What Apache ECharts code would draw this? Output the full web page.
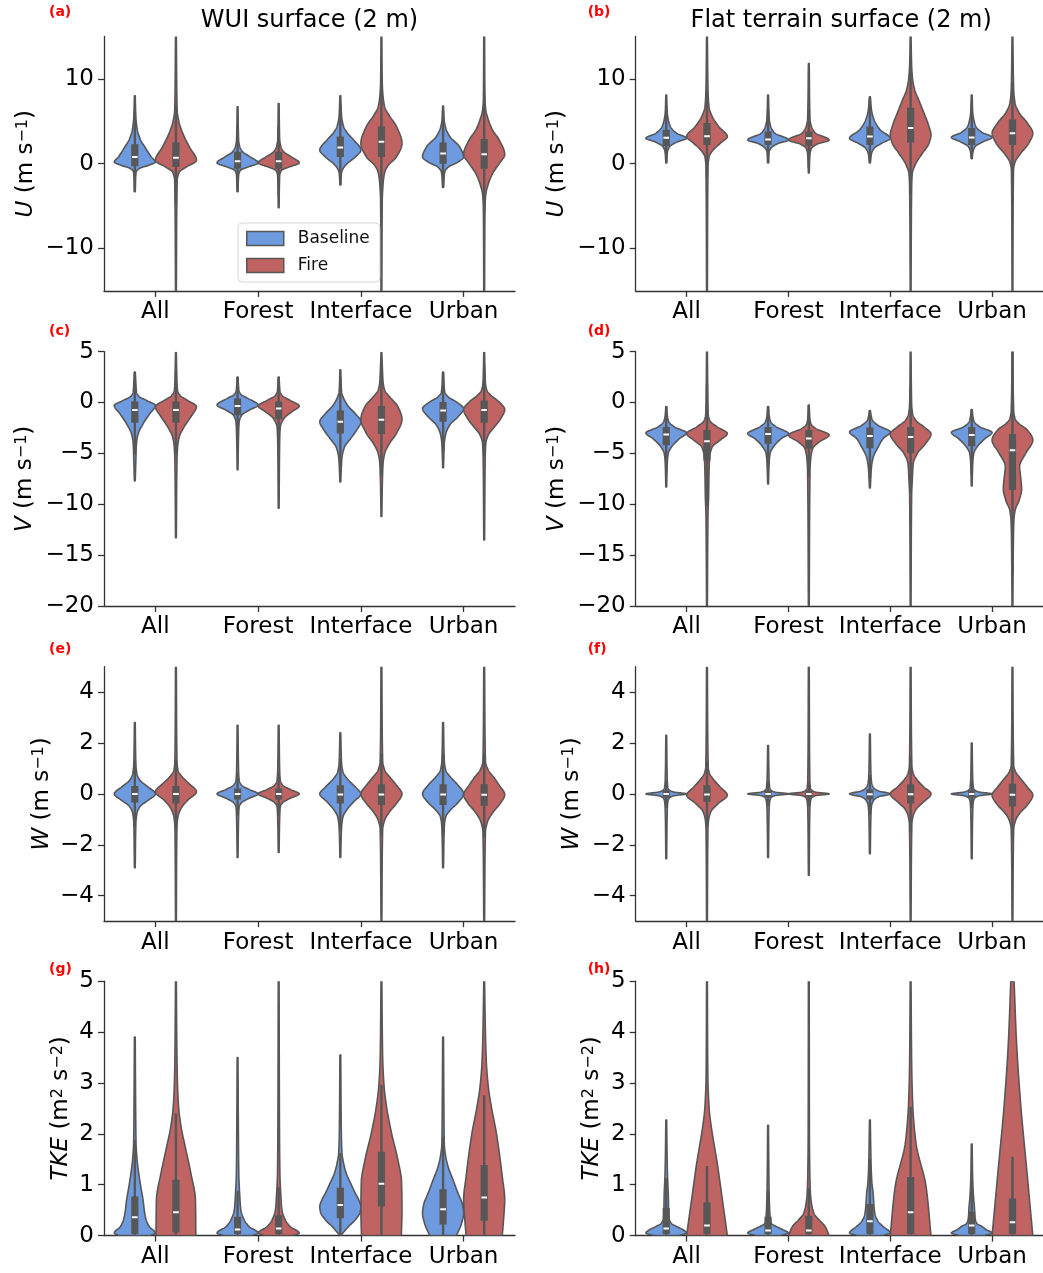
<!DOCTYPE html>
<html>
<head>
<meta charset="utf-8">
<script src="https://cdn.jsdelivr.net/npm/echarts@6/dist/echarts.min.js"></script>
<style>
  html, body { margin: 0; padding: 0; background: #fff; }
  #chart { width: 1043px; height: 1273px; }
</style>
</head>
<body>
<div id="chart"></div>
<script>
// Land-cover classes on every x axis and the two simulations compared
const categories = ['All', 'Forest', 'Interface', 'Urban'];
const groups = ['Baseline', 'Fire'];

// Tick values per quantity
const ticksU = [-10, 0, 10];
const ticksV = [-20, -15, -10, -5, 0, 5];
const ticksW = [-4, -2, 0, 2, 4];
const ticksTKE = [0, 1, 2, 3, 4, 5];

// Violin outlines: [value, half-width relative to the widest point]
// Inner boxes: [lower whisker, Q1, median, Q3, upper whisker]

// U, WUI surface
const uWuiBaseShape = [
  [[-3.3,0.02],[-1.0,0.06],[-0.6,0.2],[-0.2,0.65],[0.2,1.0],[0.8,0.8],[2.0,0.48],[2.8,0.28],[4.0,0.12],[5.5,0.05],[8.0,0.02]],
  [[-3.3,0.02],[-1.4,0.05],[-0.8,0.13],[-0.4,0.5],[0.1,1.0],[0.8,0.62],[1.4,0.25],[2.0,0.11],[2.8,0.05],[6.7,0.02]],
  [[-2.5,0.02],[-1.2,0.05],[-0.6,0.13],[0,0.33],[0.8,0.73],[1.6,1.0],[2.8,0.65],[3.6,0.35],[4.4,0.16],[5.6,0.06],[8.0,0.02]],
  [[-2.8,0.02],[-1.0,0.08],[-0.4,0.25],[0.2,0.73],[0.8,1.0],[2.0,0.8],[3.2,0.33],[4.2,0.13],[5.2,0.05],[6.8,0.02]]
];
const uWuiBaseBox = [[-3.3,-0.3,0.8,2.3,6.2],[-3.3,-0.6,0.3,1.4,4.4],[-2.5,0.8,1.9,3.2,6.8],[-2.8,0.0,1.2,2.5,6.2]];
const uWuiFireShape = [
  [[-15,0.02],[-2.0,0.06],[-1.0,0.16],[-0.4,0.5],[0.4,1.0],[2.0,0.65],[3.6,0.33],[4.8,0.16],[6.3,0.06],[15,0.02]],
  [[-5.2,0.02],[-1.4,0.05],[-0.8,0.13],[-0.4,0.5],[0.1,1.0],[0.8,0.62],[1.4,0.25],[2.0,0.11],[2.8,0.05],[7.1,0.02]],
  [[-15,0.02],[-4.4,0.04],[-2.4,0.08],[-1.0,0.16],[-0.2,0.33],[0.8,0.73],[2.4,1.0],[4.4,0.73],[5.6,0.4],[6.7,0.16],[7.9,0.08],[9.5,0.04],[15,0.02]],
  [[-15,0.02],[-5.2,0.04],[-3.6,0.08],[-2.4,0.2],[-1.2,0.4],[0,0.73],[1.1,1.0],[2.8,0.73],[4.0,0.4],[5.2,0.2],[6.3,0.08],[7.5,0.04],[15,0.02]]
];
const uWuiFireBox = [[-4.8,-0.4,0.7,2.5,6.9],[-3.6,-0.6,0.3,1.4,4.4],[-4.6,0.8,2.6,4.4,9.8],[-5.8,-0.6,1.1,2.9,8.1]];

// U, flat terrain surface
const uFlatBaseShape = [
  [[0.1,0.02],[1.4,0.06],[2.0,0.16],[2.6,0.57],[3.0,1.0],[3.6,0.5],[4.4,0.2],[5.2,0.1],[6.0,0.05],[8.1,0.02]],
  [[0.1,0.02],[1.4,0.05],[1.8,0.13],[2.4,0.5],[2.8,1.0],[3.6,0.33],[4.4,0.13],[5.2,0.06],[8.1,0.02]],
  [[0.1,0.02],[1.2,0.08],[1.8,0.2],[2.4,0.57],[3.0,1.0],[4.0,0.5],[5.2,0.2],[6.3,0.08],[7.9,0.02]],
  [[0.6,0.02],[1.4,0.06],[2.0,0.16],[2.6,0.57],[3.1,1.0],[3.7,0.5],[4.4,0.2],[5.2,0.1],[6.0,0.05],[8.1,0.02]]
];
const uFlatBaseBox = [[0.1,2.1,3.05,4.0,6.8],[0.1,2.2,2.85,3.8,6.2],[0.1,2.2,3.2,4.4,7.7],[0.6,2.2,3.1,4.2,7.2]];
const uFlatFireShape = [
  [[-15,0.02],[-0.4,0.05],[0.8,0.1],[1.6,0.3],[2.4,0.65],[3.2,1.0],[4.4,0.57],[5.6,0.25],[6.7,0.1],[8.7,0.05],[15,0.02]],
  [[-1.1,0.02],[1.2,0.06],[1.8,0.13],[2.3,0.4],[2.8,1.0],[3.6,0.33],[4.4,0.13],[5.2,0.06],[11.8,0.02]],
  [[-15,0.02],[-2.8,0.05],[-1.2,0.08],[0,0.25],[1.2,0.57],[2.4,0.9],[3.4,1.0],[4.4,0.9],[6.0,0.65],[7.5,0.4],[8.7,0.2],[9.9,0.1],[11.5,0.05],[15,0.02]],
  [[-15,0.02],[-0.8,0.05],[0.2,0.13],[1.2,0.4],[2.4,0.8],[3.6,1.0],[4.8,0.73],[6.0,0.33],[7.1,0.13],[8.7,0.06],[15,0.02]]
];
const uFlatFireBox = [[-1.6,2.2,3.25,4.8,8.7],[-0.5,2.1,3.0,3.8,6.3],[-3.6,2.5,4.2,6.6,12.7],[-2.3,2.2,3.6,5.2,9.7]];

// V, WUI surface
const vWuiBaseShape = [
  [[-7.7,0.02],[-5.7,0.05],[-4.0,0.08],[-3.1,0.16],[-2.1,0.4],[-1.1,0.73],[-0.3,1.0],[0.2,0.57],[0.6,0.2],[1.05,0.08],[1.9,0.05],[3.0,0.02]],
  [[-6.6,0.02],[-3.0,0.05],[-1.9,0.08],[-1.25,0.2],[-0.75,0.57],[-0.25,1.0],[0.4,0.5],[0.8,0.16],[1.3,0.06],[2.5,0.02]],
  [[-7.8,0.02],[-6.3,0.05],[-5.4,0.08],[-4.4,0.2],[-3.55,0.5],[-2.7,0.8],[-1.9,1.0],[-1.1,0.73],[-0.4,0.4],[0.05,0.25],[0.55,0.13],[1.05,0.06],[3.2,0.02]],
  [[-6.4,0.02],[-4.0,0.06],[-3.1,0.13],[-2.2,0.33],[-1.4,0.73],[-0.6,1.0],[0.05,0.65],[0.55,0.25],[1.05,0.08],[3.0,0.02]]
];
const vWuiBaseBox = [[-5.1,-2.0,-0.75,0.1,3.0],[-3.7,-1.25,-0.35,0.4,2.5],[-6.4,-3.05,-1.9,-0.8,2.5],[-4.8,-1.9,-0.8,0.05,2.9]];
const vWuiFireShape = [
  [[-13.3,0.02],[-5.8,0.05],[-4.4,0.08],[-3.4,0.16],[-2.4,0.4],[-1.4,0.73],[-0.4,1.0],[0.2,0.57],[0.7,0.2],[1.2,0.08],[2.0,0.05],[4.9,0.02]],
  [[-10.4,0.02],[-3.6,0.05],[-2.4,0.08],[-1.6,0.25],[-0.9,0.65],[-0.35,1.0],[0.2,0.57],[0.7,0.16],[1.2,0.06],[2.5,0.02]],
  [[-11.2,0.02],[-7.5,0.05],[-6.0,0.08],[-5.0,0.16],[-4.0,0.4],[-3.05,0.73],[-1.65,1.0],[-0.4,0.8],[0.55,0.4],[1.2,0.16],[2.0,0.08],[3.2,0.05],[4.9,0.02]],
  [[-13.5,0.02],[-5.5,0.05],[-4.0,0.08],[-3.2,0.2],[-2.4,0.5],[-1.6,0.8],[-0.7,1.0],[0.05,0.73],[0.7,0.33],[1.2,0.13],[1.9,0.06],[4.9,0.02]]
];
const vWuiFireBox = [[-5.1,-2.0,-0.75,0.1,3.2],[-4.3,-1.65,-0.6,0.1,2.5],[-7.2,-3.1,-1.7,-0.35,3.7],[-5.3,-2.0,-0.75,0.2,3.5]];

// V, flat terrain surface
const vFlatBaseShape = [
  [[-8.3,0.02],[-6.0,0.05],[-5.0,0.1],[-4.4,0.25],[-3.55,0.65],[-3.0,1.0],[-2.4,0.4],[-1.9,0.13],[-1.4,0.06],[-0.4,0.02]],
  [[-8.0,0.02],[-6.0,0.05],[-5.0,0.1],[-4.4,0.25],[-3.55,0.65],[-3.05,1.0],[-2.4,0.4],[-1.9,0.13],[-1.4,0.06],[-0.4,0.02]],
  [[-8.4,0.02],[-6.3,0.08],[-5.4,0.16],[-4.4,0.4],[-3.55,0.65],[-2.9,1.0],[-2.25,0.4],[-1.75,0.13],[-1.2,0.05],[-0.8,0.02]],
  [[-8.2,0.02],[-6.0,0.05],[-5.0,0.1],[-4.4,0.25],[-3.55,0.65],[-2.95,1.0],[-2.4,0.4],[-1.9,0.13],[-1.4,0.06],[-0.7,0.02]]
];
const vFlatBaseBox = [[-6.9,-4.2,-3.15,-2.4,-0.4],[-6.5,-4.05,-3.1,-2.4,-0.4],[-7.5,-4.5,-3.3,-2.45,-0.8],[-7.1,-4.3,-3.2,-2.4,-0.7]];
const vFlatFireShape = [
  [[-20,0.02],[-11,0.05],[-9.3,0.08],[-7.0,0.1],[-5.4,0.13],[-4.4,0.25],[-3.7,0.65],[-3.05,1.0],[-2.4,0.5],[-1.75,0.13],[-1.1,0.06],[5,0.02]],
  [[-20,0.02],[-6.7,0.06],[-5.4,0.1],[-4.5,0.2],[-3.9,0.5],[-3.2,1.0],[-2.55,0.33],[-2.1,0.1],[-1.5,0.05],[-0.25,0.02]],
  [[-20,0.02],[-9.0,0.05],[-7.7,0.08],[-6.0,0.13],[-5.0,0.33],[-4.05,0.73],[-3.1,1.0],[-2.4,0.65],[-1.75,0.25],[-1.1,0.1],[-0.2,0.05],[5,0.02]],
  [[-20,0.02],[-13,0.05],[-11.6,0.07],[-10.6,0.13],[-9.6,0.33],[-8.5,0.45],[-7.3,0.4],[-6.3,0.35],[-5.0,0.65],[-3.7,1.0],[-2.7,0.73],[-2.1,0.33],[-1.6,0.13],[-0.8,0.06],[5,0.02]]
];
const vFlatFireBox = [[-10.2,-5.7,-3.8,-2.7,1.8],[-7.3,-4.55,-3.55,-2.7,-0.25],[-8.9,-5.0,-3.4,-2.4,1.5],[-16.8,-8.6,-4.7,-3.1,5]];

// W, WUI surface
const wWuiBaseShape = [
  [[-2.9,0.02],[-1.16,0.05],[-0.77,0.1],[-0.5,0.25],[-0.25,0.65],[0,1.0],[0.27,0.65],[0.54,0.25],[0.8,0.1],[1.2,0.05],[2.8,0.02]],
  [[-2.5,0.02],[-0.9,0.05],[-0.5,0.08],[-0.34,0.2],[-0.17,0.57],[0,1.0],[0.17,0.57],[0.34,0.2],[0.54,0.08],[0.86,0.05],[2.7,0.02]],
  [[-2.5,0.02],[-1.3,0.06],[-0.9,0.13],[-0.64,0.3],[-0.31,0.65],[0,1.0],[0.27,0.73],[0.6,0.33],[0.86,0.13],[1.2,0.06],[2.4,0.02]],
  [[-2.9,0.02],[-1.3,0.06],[-0.9,0.13],[-0.64,0.35],[-0.34,0.73],[0,1.0],[0.34,0.73],[0.67,0.35],[0.93,0.13],[1.3,0.06],[2.8,0.02]]
];
const wWuiBaseBox = [[-1.3,-0.34,0,0.31,1.3],[-0.85,-0.22,0,0.21,0.85],[-1.45,-0.38,-0.02,0.34,1.4],[-1.65,-0.44,-0.02,0.38,1.6]];
const wWuiFireShape = [
  [[-5,0.02],[-1.3,0.05],[-0.9,0.1],[-0.57,0.25],[-0.25,0.57],[0.08,1.0],[0.4,0.65],[0.67,0.3],[0.93,0.1],[1.3,0.05],[5,0.02]],
  [[-2.3,0.02],[-0.9,0.05],[-0.5,0.08],[-0.34,0.2],[-0.17,0.57],[0,1.0],[0.17,0.57],[0.34,0.2],[0.54,0.08],[0.86,0.05],[2.7,0.02]],
  [[-5,0.02],[-1.4,0.06],[-1.03,0.16],[-0.7,0.4],[-0.38,0.73],[0,1.0],[0.34,0.73],[0.67,0.4],[0.93,0.16],[1.3,0.06],[5,0.02]],
  [[-5,0.02],[-1.5,0.06],[-1.1,0.16],[-0.7,0.45],[-0.38,0.78],[-0.03,1.0],[0.34,0.73],[0.67,0.45],[0.93,0.2],[1.3,0.06],[5,0.02]]
];
const wWuiFireBox = [[-1.4,-0.38,0,0.31,1.35],[-0.85,-0.22,0,0.21,0.85],[-1.65,-0.44,-0.02,0.38,1.6],[-1.7,-0.47,-0.03,0.38,1.6]];

// W, flat terrain surface
const wFlatBaseShape = [
  [[-2.55,0.02],[-0.64,0.05],[-0.3,0.08],[-0.18,0.13],[-0.08,0.33],[0,1.0],[0.08,0.33],[0.17,0.13],[0.27,0.08],[0.54,0.05],[2.3,0.02]],
  [[-2.5,0.02],[-0.64,0.05],[-0.3,0.08],[-0.16,0.13],[-0.07,0.33],[0,1.0],[0.07,0.33],[0.16,0.13],[0.27,0.08],[0.54,0.05],[1.9,0.02]],
  [[-2.35,0.02],[-0.84,0.05],[-0.47,0.08],[-0.28,0.16],[-0.12,0.4],[0,1.0],[0.12,0.4],[0.27,0.16],[0.47,0.08],[0.8,0.05],[2.35,0.02]],
  [[-2.55,0.02],[-0.64,0.05],[-0.3,0.08],[-0.18,0.13],[-0.08,0.33],[0,1.0],[0.08,0.33],[0.17,0.13],[0.27,0.08],[0.54,0.05],[2.0,0.02]]
];
const wFlatBaseBox = [[-0.55,-0.14,0,0.14,0.55],[-0.48,-0.12,0,0.12,0.48],[-0.8,-0.22,-0.01,0.18,0.75],[-0.55,-0.14,0,0.14,0.55]];
const wFlatFireShape = [
  [[-5,0.02],[-1.3,0.05],[-1.03,0.08],[-0.7,0.19],[-0.38,0.55],[-0.05,1.0],[0.27,0.65],[0.54,0.35],[0.8,0.13],[1.06,0.06],[5,0.02]],
  [[-3.2,0.02],[-0.64,0.05],[-0.3,0.08],[-0.16,0.13],[-0.07,0.33],[0,1.0],[0.07,0.33],[0.16,0.13],[0.27,0.08],[0.54,0.05],[5,0.02]],
  [[-5,0.02],[-1.2,0.06],[-0.84,0.13],[-0.57,0.3],[-0.31,0.65],[0,1.0],[0.27,0.65],[0.54,0.33],[0.8,0.13],[1.12,0.06],[5,0.02]],
  [[-5,0.02],[-1.4,0.06],[-1.03,0.16],[-0.77,0.35],[-0.44,0.73],[-0.05,1.0],[0.27,0.73],[0.6,0.4],[0.86,0.16],[1.12,0.06],[5,0.02]]
];
const wFlatFireBox = [[-1.3,-0.31,-0.02,0.34,1.3],[-0.48,-0.12,0,0.12,0.48],[-1.5,-0.38,-0.01,0.38,1.5],[-1.85,-0.5,-0.03,0.4,1.75]];

// TKE, WUI surface
const tkeWuiBaseShape = [
  [[0,0.75],[0.05,1.0],[0.18,0.7],[0.31,0.55],[0.44,0.48],[0.7,0.4],[0.96,0.29],[1.22,0.19],[1.49,0.11],[1.8,0.06],[2.5,0.04],[3.9,0.02]],
  [[0,0.7],[0.05,1.0],[0.18,0.55],[0.31,0.32],[0.5,0.16],[0.83,0.1],[1.2,0.06],[2.0,0.04],[3.5,0.02]],
  [[0,0.02],[0.18,0.4],[0.31,0.73],[0.47,0.97],[0.57,1.0],[0.7,0.9],[0.83,0.73],[1.03,0.5],[1.22,0.29],[1.42,0.16],[1.62,0.08],[2.0,0.05],[3.55,0.02]],
  [[0,0.65],[0.24,0.9],[0.44,1.0],[0.6,0.95],[0.83,0.73],[1.1,0.48],[1.36,0.24],[1.55,0.13],[1.8,0.06],[2.5,0.04],[3.9,0.02]]
];
const tkeWuiBaseBox = [[0,0.03,0.36,0.77,1.88],[0,0.03,0.12,0.37,0.88],[0,0.34,0.6,0.94,1.62],[0,0.22,0.52,0.91,1.94]];
const tkeWuiFireShape = [
  [[0,0.97],[0.7,0.95],[1.22,0.73],[1.75,0.45],[2.14,0.25],[2.53,0.13],[2.93,0.08],[3.5,0.05],[5,0.02]],
  [[0,0.72],[0.05,1.0],[0.18,0.55],[0.31,0.32],[0.5,0.16],[0.83,0.1],[1.2,0.06],[2.0,0.04],[5,0.02]],
  [[0,0.97],[0.5,1.0],[1.05,0.98],[1.49,0.8],[2.0,0.5],[2.53,0.25],[2.93,0.13],[3.5,0.06],[5,0.02]],
  [[0,0.88],[0.35,0.95],[0.7,1.0],[1.16,0.88],[2.0,0.6],[2.53,0.35],[2.93,0.2],[3.45,0.1],[4.2,0.05],[5,0.02]]
];
const tkeWuiFireBox = [[0,0.06,0.46,1.1,2.4],[0,0.03,0.14,0.4,0.95],[0,0.57,1.02,1.65,2.96],[0,0.29,0.75,1.39,2.76]];

// TKE, flat terrain surface
const tkeFlatBaseShape = [
  [[0,0.6],[0.05,1.0],[0.12,0.8],[0.18,0.5],[0.24,0.25],[0.37,0.13],[0.83,0.1],[1.2,0.06],[1.6,0.04],[2.27,0.02]],
  [[0,0.6],[0.05,1.0],[0.12,0.7],[0.18,0.4],[0.24,0.16],[0.37,0.1],[0.7,0.06],[1.15,0.04],[2.17,0.02]],
  [[0,0.6],[0.05,1.0],[0.18,0.65],[0.28,0.4],[0.44,0.24],[0.64,0.19],[0.83,0.16],[1.03,0.1],[1.36,0.06],[1.75,0.04],[2.27,0.02]],
  [[0,0.6],[0.05,1.0],[0.12,0.7],[0.18,0.5],[0.24,0.25],[0.37,0.16],[0.57,0.13],[0.7,0.1],[0.96,0.06],[1.22,0.04],[1.8,0.02]]
];
const tkeFlatBaseBox = [[0,0.03,0.14,0.54,1.13],[0,0.03,0.1,0.37,0.88],[0,0.03,0.28,0.62,1.5],[0,0.03,0.2,0.47,1.12]];
const tkeFlatFireShape = [
  [[0,1.0],[1.3,0.55],[2.6,0.09],[3.2,0.04],[5,0.02]],
  [[0,1.0],[0.18,0.8],[0.31,0.5],[0.44,0.25],[0.64,0.13],[0.83,0.08],[1.2,0.05],[2.0,0.03],[5,0.02]],
  [[0,1.0],[0.96,0.76],[1.85,0.25],[2.6,0.1],[3.4,0.05],[5,0.02]],
  [[0,1.0],[1.3,0.7],[2.6,0.4],[3.8,0.2],[5,0.08]]
];
const tkeFlatFireBox = [[0,0.03,0.2,0.65,1.37],[0,0.03,0.1,0.39,0.93],[0,0.03,0.46,1.15,2.53],[0,0.03,0.26,0.73,1.55]];

// ---------------------------------------------------------------------------
const FONT = 'DejaVu Sans';
const BLUE = '#6e9ae0';
const RED = '#c06363';
const EDGE = '#575757';
const AXIS = '#333333';

const nameRich = {
  it: { fontStyle: 'italic', fontSize: 23, fontFamily: FONT, color: '#000' },
  sup: { fontSize: 16, fontFamily: FONT, color: '#000', verticalAlign: 'top' }
};
const labelU = '{it|U} (m s{sup|\u22121})';
const labelV = '{it|V} (m s{sup|\u22121})';
const labelW = '{it|W} (m s{sup|\u22121})';
const labelTKE = '{it|TKE} (m{sup|2} s{sup|\u22122})';

const colX = [104, 635.7];
const rowY = [36.5, 351.6, 666.7, 981.2];
const plotW = 411;
const plotH = 254.4;
const tagShiftX = [55, 48];
const tagShiftY = [31, 27, 24, 19];

const panels = [
  { tag: '(a)', col: 0, row: 0, min: -15, max: 15, ticks: ticksU, name: labelU, gap: 66, base: [uWuiBaseShape, uWuiBaseBox], fire: [uWuiFireShape, uWuiFireBox] },
  { tag: '(b)', col: 1, row: 0, min: -15, max: 15, ticks: ticksU, name: labelU, gap: 67, base: [uFlatBaseShape, uFlatBaseBox], fire: [uFlatFireShape, uFlatFireBox] },
  { tag: '(c)', col: 0, row: 1, min: -20, max: 5, ticks: ticksV, name: labelV, gap: 67, base: [vWuiBaseShape, vWuiBaseBox], fire: [vWuiFireShape, vWuiFireBox] },
  { tag: '(d)', col: 1, row: 1, min: -20, max: 5, ticks: ticksV, name: labelV, gap: 67, base: [vFlatBaseShape, vFlatBaseBox], fire: [vFlatFireShape, vFlatFireBox] },
  { tag: '(e)', col: 0, row: 2, min: -5, max: 5, ticks: ticksW, name: labelW, gap: 50, base: [wWuiBaseShape, wWuiBaseBox], fire: [wWuiFireShape, wWuiFireBox] },
  { tag: '(f)', col: 1, row: 2, min: -5, max: 5, ticks: ticksW, name: labelW, gap: 52, base: [wFlatBaseShape, wFlatBaseBox], fire: [wFlatFireShape, wFlatFireBox] },
  { tag: '(g)', col: 0, row: 3, min: 0, max: 5, ticks: ticksTKE, name: labelTKE, gap: 31, base: [tkeWuiBaseShape, tkeWuiBaseBox], fire: [tkeWuiFireShape, tkeWuiFireBox] },
  { tag: '(h)', col: 1, row: 3, min: 0, max: 5, ticks: ticksTKE, name: labelTKE, gap: 32, base: [tkeFlatBaseShape, tkeFlatBaseBox], fire: [tkeFlatFireShape, tkeFlatFireBox] }
];

// Smooth outline through the profile knots with a monotone cubic
// (no overshoot past the knots), traced in value space.
function smoothOutline(prof) {
  const n = prof.length;
  if (n < 3) return prof;
  const x = prof.map(p => p[0]), y = prof.map(p => p[1]);
  const h = [], d = [];
  for (let i = 0; i < n - 1; i++) { h[i] = x[i + 1] - x[i]; d[i] = (y[i + 1] - y[i]) / h[i]; }
  const m = new Array(n);
  m[0] = d[0]; m[n - 1] = d[n - 2];
  for (let i = 1; i < n - 1; i++) {
    if (d[i - 1] * d[i] <= 0) m[i] = 0;
    else m[i] = 3 * (h[i - 1] + h[i]) / ((2 * h[i] + h[i - 1]) / d[i - 1] + (h[i] + 2 * h[i - 1]) / d[i]);
  }
  const out = [];
  const STEPS = 14;
  for (let i = 0; i < n - 1; i++) {
    for (let s = 0; s < STEPS; s++) {
      const t = s / STEPS, t2 = t * t, t3 = t2 * t;
      const w = (2 * t3 - 3 * t2 + 1) * y[i] + (t3 - 2 * t2 + t) * h[i] * m[i]
              + (-2 * t3 + 3 * t2) * y[i + 1] + (t3 - t2) * h[i] * m[i + 1];
      out.push([x[i] + t * h[i], Math.max(0.01, w)]);
    }
  }
  out.push(prof[n - 1]);
  return out;
}

// Draws one violin (outline + inner box) per category, dodged by `shift` bands
function violinRenderer(shapes, boxes, shift, fill) {
  const outlines = shapes.map(smoothOutline);
  return function (params, api) {
    const i = api.value(0);
    const band = api.size([1, 0])[0];
    const cx = api.coord([i, 0])[0] + shift * band;
    const hw = 0.2 * band;
    const py = v => api.coord([i, v])[1];
    const prof = outlines[i];
    const right = prof.map(p => [cx + p[1] * hw, py(p[0])]);
    const left = prof.slice().reverse().map(p => [cx - p[1] * hw, py(p[0])]);
    const b = boxes[i];
    return {
      type: 'group',
      children: [
        { type: 'polygon', shape: { points: right.concat(left) },
          style: { fill: fill, stroke: EDGE, lineWidth: 1.6, lineJoin: 'round' } },
        { type: 'line', shape: { x1: cx, y1: py(b[0]), x2: cx, y2: py(b[4]) },
          style: { stroke: EDGE, lineWidth: 2.4 } },
        { type: 'rect', shape: { x: cx - 3.6, y: py(b[3]), width: 7.2, height: py(b[1]) - py(b[3]) },
          style: { fill: EDGE } },
        { type: 'line', shape: { x1: cx - 2.8, y1: py(b[2]), x2: cx + 2.8, y2: py(b[2]) },
          style: { stroke: '#ffffff', lineWidth: 2 } }
      ]
    };
  };
}

const grid = [], xAxis = [], yAxis = [], series = [], graphic = [];

panels.forEach((p, k) => {
  grid.push({ left: colX[p.col], top: rowY[p.row], width: plotW, height: plotH, containLabel: false });
  xAxis.push({
    gridIndex: k, type: 'category', data: categories, boundaryGap: true,
    axisLine: { show: true, onZero: false, lineStyle: { color: AXIS, width: 1.3 } },
    axisTick: { show: true, alignWithLabel: true, length: 6, lineStyle: { color: AXIS, width: 1.3 } },
    axisLabel: { fontSize: 23, fontFamily: FONT, color: '#000', margin: 10, interval: 0 },
    splitLine: { show: false }
  });
  yAxis.push({
    gridIndex: k, type: 'value', min: p.min, max: p.max,
    axisLine: { show: true, onZero: false, lineStyle: { color: AXIS, width: 1.3 } },
    axisTick: { show: true, length: 6, customValues: p.ticks, lineStyle: { color: AXIS, width: 1.3 } },
    axisLabel: { fontSize: 23, fontFamily: FONT, color: '#000', margin: 10, customValues: p.ticks,
      formatter: v => String(v).replace('-', '\u2212') },
    splitLine: { show: false },
    name: p.name, nameLocation: 'middle', nameRotate: 90, nameGap: p.gap,
    nameTextStyle: { fontSize: 23, fontFamily: FONT, color: '#000', rich: nameRich }
  });
  [[p.base, -0.2, BLUE, groups[0]], [p.fire, 0.2, RED, groups[1]]].forEach(([d, shift, color, nm]) => {
    series.push({
      type: 'custom', name: nm, xAxisIndex: k, yAxisIndex: k, clip: true,
      itemStyle: { color: color, borderColor: EDGE, borderWidth: 1.5 },
      encode: { x: 0, y: 1 },
      data: categories.map((c, i) => [i, d[1][i][2]]),
      renderItem: violinRenderer(d[0], d[1], shift, color)
    });
  });
  graphic.push({
    type: 'text', left: colX[p.col] - tagShiftX[p.col], top: rowY[p.row] - tagShiftY[p.row],
    style: { text: p.tag, fill: '#ff0000', font: 'bold 14px "DejaVu Sans"' }
  });
});

graphic.push(
  { type: 'text', x: colX[0] + plotW / 2, y: 21,
    style: { text: 'WUI surface (2 m)', fill: '#000', font: '24px "DejaVu Sans"', align: 'center', verticalAlign: 'middle' } },
  { type: 'text', x: colX[1] + plotW / 2, y: 21,
    style: { text: 'Flat terrain surface (2 m)', fill: '#000', font: '24px "DejaVu Sans"', align: 'center', verticalAlign: 'middle' } }
);

const chart = echarts.init(document.getElementById('chart'), null, { renderer: 'canvas' });
chart.setOption({
  animation: false,
  backgroundColor: '#fff',
  textStyle: { fontFamily: FONT },
  grid, xAxis, yAxis, series, graphic,
  legend: {
    left: 238, top: 223, orient: 'vertical',
    itemWidth: 37, itemHeight: 14, itemGap: 10, icon: 'rect',
    padding: [7, 10, 8, 8],
    backgroundColor: 'rgba(255,255,255,0.85)', borderColor: '#d6d6d6', borderWidth: 1, borderRadius: 4,
    textStyle: { fontSize: 17, fontFamily: FONT, color: '#111', padding: [0, 0, 0, 9] },
    data: [
      { name: groups[0], itemStyle: { color: BLUE, borderColor: EDGE, borderWidth: 1.5 } },
      { name: groups[1], itemStyle: { color: RED, borderColor: EDGE, borderWidth: 1.5 } }
    ]
  }
});
</script>
</body>
</html>
